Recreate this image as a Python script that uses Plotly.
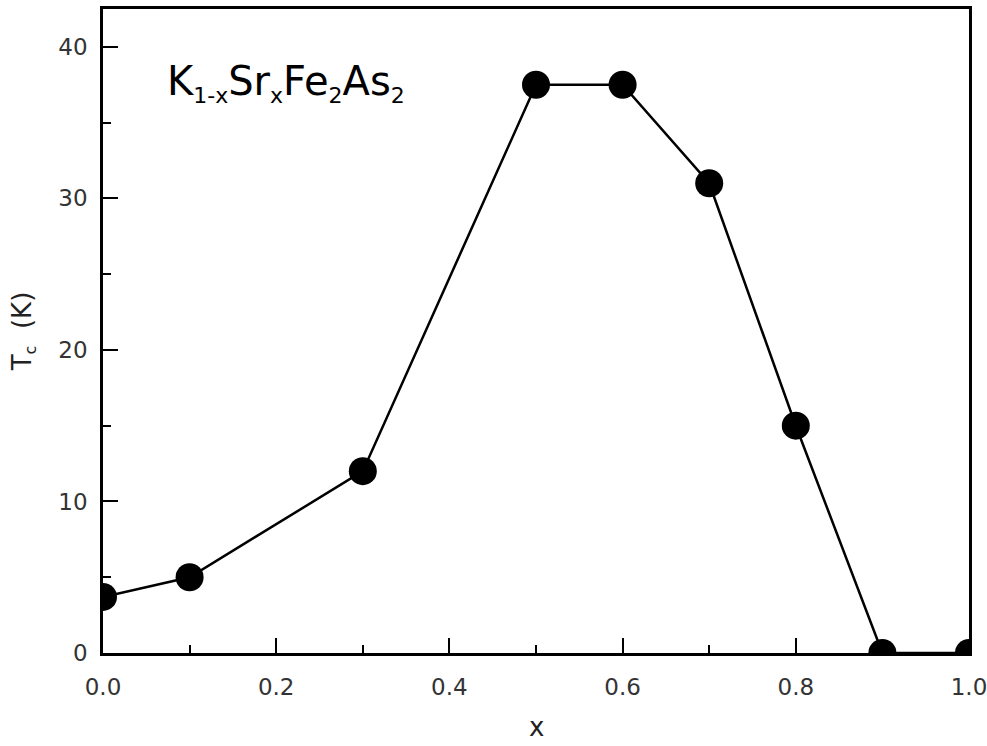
import plotly.graph_objects as go

x_vals = [0.0, 0.1, 0.3, 0.5, 0.6, 0.7, 0.8, 0.9, 1.0]
tc_vals = [3.7, 5.0, 12.0, 37.5, 37.5, 31.0, 15.0, 0.0, 0.0]
x_ticks = [0.0, 0.2, 0.4, 0.6, 0.8, 1.0]
x_tick_text = ["0.0", "0.2", "0.4", "0.6", "0.8", "1.0"]
y_ticks = [0, 10, 20, 30, 40]

font = "DejaVu Sans, Liberation Sans, Arial, sans-serif"


def sub(s, size=22):
    return "<sub><span style='font-size:%dpx'>%s</span></sub>" % (size, s)


formula = "K" + sub("1-x") + "Sr" + sub("x") + "Fe" + sub("2") + "As" + sub("2")

fig = go.Figure()
fig.add_trace(go.Scatter(
    x=x_vals, y=tc_vals, mode="lines+markers",
    line=dict(color="black", width=2.5),
    marker=dict(color="black", size=28),
    cliponaxis=True, showlegend=False,
))

fig.update_layout(
    width=987, height=746,
    margin=dict(l=103, r=18, t=9, b=93, autoexpand=False),
    paper_bgcolor="white", plot_bgcolor="white",
    font=dict(family=font, color="#222"),
    xaxis=dict(
        range=[0, 1.0], tickvals=x_ticks, ticktext=x_tick_text,
        ticks="inside", ticklen=15, tickwidth=2, tickcolor="black",
        showline=True, linecolor="black", linewidth=2.5, mirror=True,
        showgrid=False, zeroline=False, automargin=False,
        ticklabeloverflow="allow", ticklabelstandoff=12,
        tickfont=dict(size=23, family=font, color="#333"),
        minor=dict(dtick=0.1, ticks="inside", ticklen=8, tickwidth=2, tickcolor="black", showgrid=False),
    ),
    yaxis=dict(
        range=[0, 42.5], tickvals=y_ticks,
        ticks="inside", ticklen=15, tickwidth=2, tickcolor="black",
        showline=True, linecolor="black", linewidth=2.5, mirror=True,
        showgrid=False, zeroline=False, automargin=False,
        ticklabelstandoff=8,
        tickfont=dict(size=23, family=font, color="#333"),
        minor=dict(dtick=5, ticks="inside", ticklen=8, tickwidth=2, tickcolor="black", showgrid=False),
        title=dict(text="T" + sub("c", 16) + "  (K)", font=dict(size=26, family=font, color="#222"), standoff=20),
    ),
    annotations=[
        dict(
            text=formula,
            xref="paper", yref="paper", x=0.072, y=0.885, xanchor="left", yanchor="middle",
            showarrow=False, font=dict(size=40, family=font, color="black"),
        ),
        dict(
            text="x",
            xref="paper", yref="paper", x=0.5, y=0, xanchor="center", yanchor="middle",
            yshift=-74, showarrow=False, font=dict(size=26, family=font, color="#222"),
        ),
    ],
)

fig.write_html("out.html")
